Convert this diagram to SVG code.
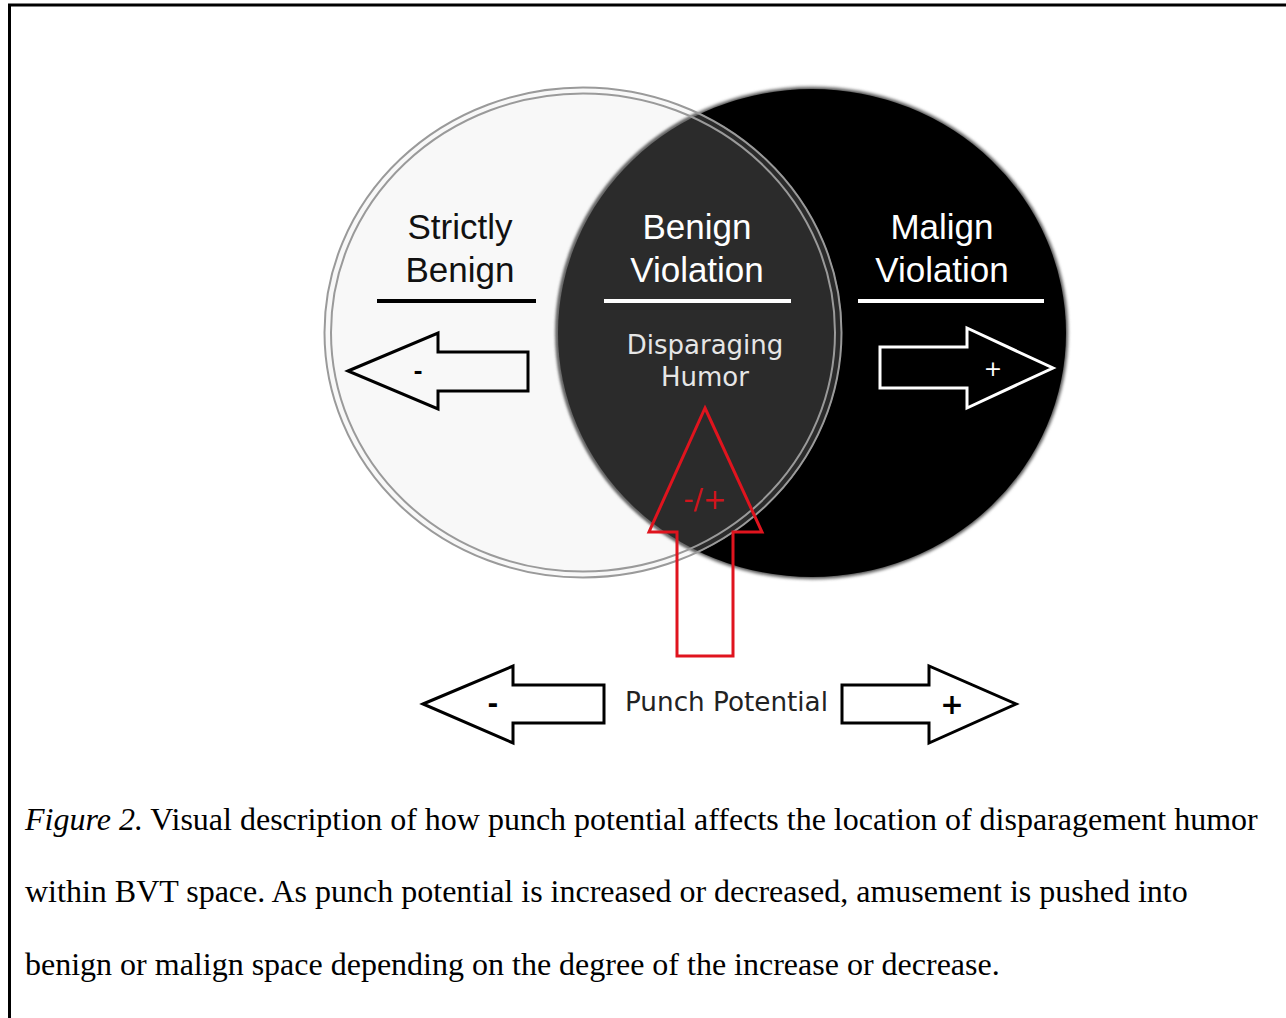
<svg xmlns="http://www.w3.org/2000/svg" width="1286" height="1018" viewBox="0 0 1286 1018">
<style>
.lbl{font-family:"Liberation Sans",Arial,sans-serif;font-size:35px;text-anchor:middle}
.v{font-family:"DejaVu Sans",Verdana,sans-serif;text-anchor:middle}
.cap{font-family:"Liberation Serif","Times New Roman",serif;font-size:32px;fill:#000}
.ring{fill:none;stroke:#9a9a9a;stroke-width:2}
.barrow{fill:none;stroke:#000;stroke-width:3;stroke-linejoin:miter}
.warrow{fill:none;stroke:#fff;stroke-width:3;stroke-linejoin:miter}
</style>
<defs>
<clipPath id="leftClip"><ellipse cx="583" cy="332.5" rx="259" ry="245.5"/></clipPath>
<filter id="soft" x="-10%" y="-10%" width="120%" height="120%"><feGaussianBlur stdDeviation="1.5"/></filter>
</defs>
<rect width="1286" height="1018" fill="#fff"/>
<path d="M9.5 1018 V5 H1286" fill="none" stroke="#000" stroke-width="3"/>

<g id="strictly-benign">
<ellipse cx="583" cy="332.5" rx="259" ry="245.5" fill="#f8f8f8"/>
</g>
<g id="malign-violation">
<ellipse cx="812" cy="333" rx="255" ry="245" fill="#000" stroke="#777" stroke-width="3" filter="url(#soft)"/>
<ellipse cx="812" cy="333" rx="254" ry="244" fill="#000"/>
</g>
<g id="benign-violation">
<ellipse cx="812" cy="333" rx="256" ry="246" fill="#6a6a6a" clip-path="url(#leftClip)" filter="url(#soft)"/>
<ellipse cx="812" cy="333" rx="254" ry="244" fill="#2b2b2b" clip-path="url(#leftClip)"/>
</g>
<g id="left-ring">
<ellipse class="ring" cx="583" cy="332.5" rx="258.5" ry="245"/>
<ellipse class="ring" cx="583" cy="332.5" rx="252" ry="239"/>
</g>

<g id="labels">
<text class="lbl" x="460" y="239" fill="#111">Strictly</text>
<text class="lbl" x="460" y="282" fill="#111">Benign</text>
<rect x="377" y="299" width="159" height="4" fill="#000"/>
<text class="lbl" x="697" y="239" fill="#fff">Benign</text>
<text class="lbl" x="697" y="282" fill="#fff">Violation</text>
<rect x="604" y="299" width="187" height="4" fill="#fff"/>
<text class="lbl" x="942" y="239" fill="#fff">Malign</text>
<text class="lbl" x="942" y="282" fill="#fff">Violation</text>
<rect x="858" y="299" width="186" height="4" fill="#fff"/>
<text class="v" x="705" y="354" font-size="26" fill="#e6e6e6">Disparaging</text>
<text class="v" x="705" y="386" font-size="26" fill="#e6e6e6">Humor</text>
</g>

<g id="connectors">
<g id="benign-arrow">
<path class="barrow" d="M348 371 L438 333 L438 352 L528 352 L528 391 L438 391 L438 409 Z"/>
<text class="v" x="418" y="379" font-size="22" font-weight="bold" fill="#000">-</text>
</g>
<g id="malign-arrow">
<path class="warrow" d="M880 347 L967 347 L967 328 L1053 368 L967 408 L967 388 L880 388 Z"/>
<text class="v" x="993" y="376" font-size="22" fill="#fff">+</text>
</g>
<g id="punch-arrow">
<path d="M705 408 L762 532 L733 532 L733 656 L677 656 L677 532 L649 532 Z" fill="none" stroke="#e0141e" stroke-width="3"/>
<text class="v" x="705" y="509" font-size="28" fill="#d0141c">-/+</text>
</g>
<g id="minus-arrow">
<path class="barrow" d="M423 704 L513 666 L513 685 L604 685 L604 723 L513 723 L513 743 Z"/>
<text class="v" x="493" y="713" font-size="26" font-weight="bold" fill="#000">-</text>
</g>
<g id="plus-arrow">
<path class="barrow" d="M842 685 L929 685 L929 666 L1016 704 L929 743 L929 723 L842 723 Z"/>
<text class="v" x="952" y="714" font-size="28" font-weight="bold" fill="#000">+</text>
</g>
</g>

<g id="punch-potential">
<text class="v" x="726.5" y="711" font-size="26" textLength="203" lengthAdjust="spacingAndGlyphs" fill="#222">Punch Potential</text>
</g>

<g id="caption">
<text class="cap" x="25" y="830"><tspan font-style="italic">Figure 2.</tspan> Visual description of how punch potential affects the location of disparagement humor</text>
<text class="cap" x="25" y="902">within BVT space. As punch potential is increased or decreased, amusement is pushed into</text>
<text class="cap" x="25" y="975">benign or malign space depending on the degree of the increase or decrease.</text>
</g>
</svg>
